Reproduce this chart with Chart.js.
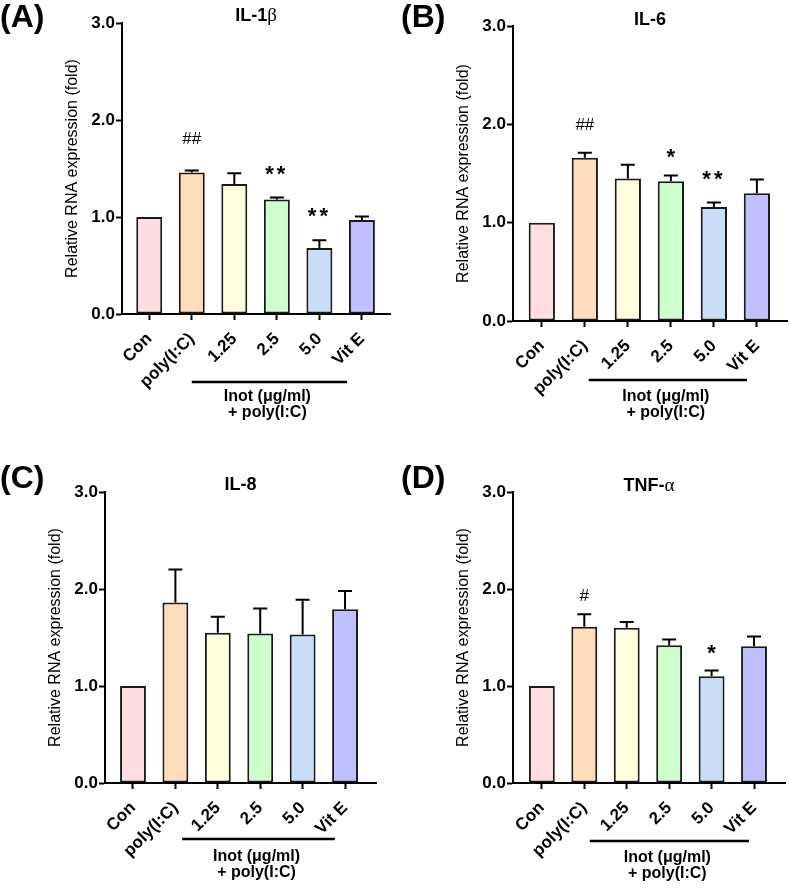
<!DOCTYPE html>
<html>
<head>
<meta charset="utf-8">
<script src="https://cdn.jsdelivr.net/npm/chart.js@4"></script>
<style>
  html, body { margin: 0; background: #fff; }
  body { width: 789px; height: 890px; position: relative; overflow: hidden; }
  .panel { position: absolute; }
  canvas { display: block; }
</style>
</head>
<body>
<div class="panel" style="left:0;top:0"><canvas id="pA" width="395" height="440"></canvas></div>
<div class="panel" style="left:395px;top:0"><canvas id="pB" width="394" height="440"></canvas></div>
<div class="panel" style="left:0;top:440px"><canvas id="pC" width="395" height="450"></canvas></div>
<div class="panel" style="left:395px;top:440px"><canvas id="pD" width="394" height="450"></canvas></div>
<script>
// groups on the x axis
const categories = ['Con', 'poly(I:C)', '1.25', '2.5', '5.0', 'Vit E'];
const yTicks = [0, 1, 2, 3];
const yTitle = 'Relative RNA expression (fold)';
const groupLabel = ['Inot (μg/ml)', '+ poly(I:C)'];

// mean and error (upper SEM)
const il1bMean = [1.0, 1.46, 1.34, 1.18, 0.68, 0.97];
const il1bErr  = [0, 0.02, 0.11, 0.02, 0.08, 0.035];
const il6Mean  = [1.0, 1.66, 1.45, 1.42, 1.16, 1.30];
const il6Err   = [0, 0.05, 0.14, 0.06, 0.044, 0.14];
const il8Mean  = [1.0, 1.86, 1.55, 1.54, 1.53, 1.79];
const il8Err   = [0, 0.34, 0.165, 0.26, 0.36, 0.19];
const tnfMean  = [1.0, 1.61, 1.60, 1.42, 1.10, 1.41];
const tnfErr   = [0, 0.13, 0.06, 0.06, 0.06, 0.10];

// significance marks and the height they sit at
const il1bMarks = ['', '##', '', '**', '**', ''];
const il1bMarkY = [0, 1.81, 0, 1.48, 1.05, 0];
const il6Marks  = ['', '##', '', '*', '**', ''];
const il6MarkY  = [0, 2.0, 0, 1.70, 1.475, 0];
const il8Marks  = ['', '', '', '', '', ''];
const il8MarkY  = [0, 0, 0, 0, 0, 0];
const tnfMarks  = ['', '#', '', '', '*', ''];
const tnfMarkY  = [0, 1.94, 0, 0, 1.38, 0];

const barColors = ['#ffdde3', '#ffdcbb', '#ffffdd', '#ccffcc', '#c9ddf7', '#c0c0ff'];

const SANS = '"Liberation Sans", Arial, sans-serif';
const SERIF = '"Liberation Serif", "DejaVu Serif", serif';

const panels = [
  { id: 'pA', tag: '(A)', title: ['IL-1', 'β'], mean: il1bMean, err: il1bErr, marks: il1bMarks, markY: il1bMarkY,
    box: { left: 122, top: 23, right: 390, bottom: 314 }, xMin: -0.64, xMax: 5.66,
    titleY: 16, tagX: 0, tagY: 18, span: [1.0, 4.65], line: [68, 83, 99] },
  { id: 'pB', tag: '(B)', title: ['IL-6', ''], mean: il6Mean, err: il6Err, marks: il6Marks, markY: il6MarkY,
    box: { left: 118, top: 26, right: 392, bottom: 321 }, xMin: -0.67, xMax: 5.7,
    titleY: 20, tagX: 6, tagY: 18, span: [1.09, 4.77], line: [59, 76, 92] },
  { id: 'pC', tag: '(C)', title: ['IL-8', ''], mean: il8Mean, err: il8Err, marks: il8Marks, markY: il8MarkY,
    box: { left: 105, top: 52, right: 376, bottom: 343 }, xMin: -0.66, xMax: 5.73,
    titleY: 45, tagX: 0, tagY: 39, span: [1.16, 4.76], line: [56, 74, 90] },
  { id: 'pD', tag: '(D)', title: ['TNF-', 'α'], mean: tnfMean, err: tnfErr, marks: tnfMarks, markY: tnfMarkY,
    box: { left: 118, top: 52, right: 390, bottom: 343 }, xMin: -0.68, xMax: 5.73,
    titleY: 46, tagX: 6, tagY: 39, span: [1.13, 4.88], line: [58, 75, 91] },
];

function decorPlugin(p) {
  return {
    id: 'decor',
    beforeDraw(chart) {
      const ctx = chart.ctx;
      ctx.save();
      ctx.fillStyle = '#fff';
      ctx.fillRect(0, 0, chart.width, chart.height);
      ctx.restore();
    },
    afterDraw(chart) {
      const { ctx, chartArea: a, scales: { x, y } } = chart;
      ctx.save();
      ctx.fillStyle = '#000';
      ctx.strokeStyle = '#000';

      // error bars
      ctx.lineWidth = 2;
      p.mean.forEach((m, i) => {
        if (!p.err[i]) return;
        const cx = x.getPixelForValue(i);
        const y0 = y.getPixelForValue(m);
        const y1 = y.getPixelForValue(m + p.err[i]);
        ctx.beginPath();
        ctx.moveTo(cx, y0);
        ctx.lineTo(cx, y1);
        ctx.moveTo(cx - 7, y1);
        ctx.lineTo(cx + 7, y1);
        ctx.stroke();
      });

      // significance marks
      ctx.textAlign = 'center';
      ctx.textBaseline = 'alphabetic';
      p.marks.forEach((t, i) => {
        if (!t) return;
        if (t.includes('#')) {
          ctx.font = '17px ' + SANS;
          ctx.letterSpacing = '0px';
        } else {
          ctx.font = 'bold 22px ' + SANS;
          ctx.letterSpacing = t.length > 1 ? '3px' : '0px';
        }
        const mt = ctx.measureText(t);
        const cy = y.getPixelForValue(p.markY[i]);
        ctx.fillText(t, x.getPixelForValue(i), cy + (mt.actualBoundingBoxAscent - mt.actualBoundingBoxDescent) / 2);
      });
      ctx.letterSpacing = '0px';

      // panel tag
      ctx.textAlign = 'left';
      ctx.textBaseline = 'middle';
      ctx.font = 'bold 32px ' + SANS;
      ctx.fillText(p.tag, p.tagX, p.tagY);

      // title: bold sans with a serif greek letter
      ctx.font = 'bold 18px ' + SANS;
      const w1 = ctx.measureText(p.title[0]).width;
      ctx.font = '19px ' + SERIF;
      const w2 = p.title[1] ? ctx.measureText(p.title[1]).width : 0;
      const tx = (a.left + a.right) / 2 - (w1 + w2) / 2;
      ctx.font = 'bold 18px ' + SANS;
      ctx.fillText(p.title[0], tx, p.titleY);
      if (p.title[1]) {
        ctx.font = '19px ' + SERIF;
        ctx.fillText(p.title[1], tx + w1, p.titleY);
      }

      // y axis title
      ctx.save();
      ctx.translate(a.left - 49, (a.top + a.bottom) / 2);
      ctx.rotate(-Math.PI / 2);
      ctx.font = '16px ' + SANS;
      ctx.textAlign = 'center';
      ctx.fillText(yTitle, 0, 0);
      ctx.restore();

      // treatment group bracket
      const xa = x.getPixelForValue(p.span[0]);
      const xb = x.getPixelForValue(p.span[1]);
      ctx.lineWidth = 2.5;
      ctx.beginPath();
      ctx.moveTo(xa, a.bottom + p.line[0]);
      ctx.lineTo(xb, a.bottom + p.line[0]);
      ctx.stroke();
      ctx.font = 'bold 16px ' + SANS;
      ctx.textAlign = 'center';
      const mx = (xa + xb) / 2 - 2;
      ctx.fillText(groupLabel[0], mx, a.bottom + p.line[1]);
      ctx.fillText(groupLabel[1], mx, a.bottom + p.line[2]);
      ctx.restore();
    }
  };
}

panels.forEach((p) => {
  const canvas = document.getElementById(p.id);
  const W = canvas.width;
  const H = canvas.height;
  new Chart(canvas, {
    type: 'bar',
    data: {
      datasets: [{
        data: p.mean.map((v, i) => ({ x: i, y: v })),
        backgroundColor: barColors,
        borderColor: '#1a1a1a',
        borderWidth: 2,
        borderSkipped: false,
        categoryPercentage: 1,
        barPercentage: 0.61,
      }],
    },
    options: {
      responsive: false,
      devicePixelRatio: 1,
      animation: false,
      events: [],
      layout: { padding: { top: p.box.top, right: W - p.box.right, left: 0, bottom: 0 } },
      plugins: { legend: { display: false }, tooltip: { enabled: false }, title: { display: false } },
      scales: {
        x: {
          type: 'linear',
          offset: false,
          min: p.xMin,
          max: p.xMax,
          afterBuildTicks: (scale) => { scale.ticks = categories.map((c, i) => ({ value: i })); },
          afterFit: (scale) => { scale.height = H - p.box.bottom; },
          grid: { display: true, offset: false, drawOnChartArea: false, drawTicks: true, tickLength: 6, tickColor: '#000', tickWidth: 2 },
          border: { display: true, color: '#000', width: 2 },
          ticks: {
            autoSkip: false,
            minRotation: 45,
            maxRotation: 45,
            padding: 9,
            color: '#000',
            font: { family: SANS, size: 17, weight: 'bold' },
            callback: (v) => categories[v],
          },
        },
        y: {
          min: 0,
          max: 3,
          afterBuildTicks: (scale) => { scale.ticks = yTicks.map((v) => ({ value: v })); },
          afterFit: (scale) => { scale.width = p.box.left; },
          grid: { display: true, drawOnChartArea: false, drawTicks: true, tickLength: 6, tickColor: '#000', tickWidth: 2 },
          border: { display: true, color: '#000', width: 2 },
          ticks: {
            padding: 1,
            color: '#000',
            font: { family: SANS, size: 17, weight: 'bold' },
            callback: (v) => v.toFixed(1),
          },
        },
      },
    },
    plugins: [decorPlugin(p)],
  });
});
</script>
</body>
</html>
